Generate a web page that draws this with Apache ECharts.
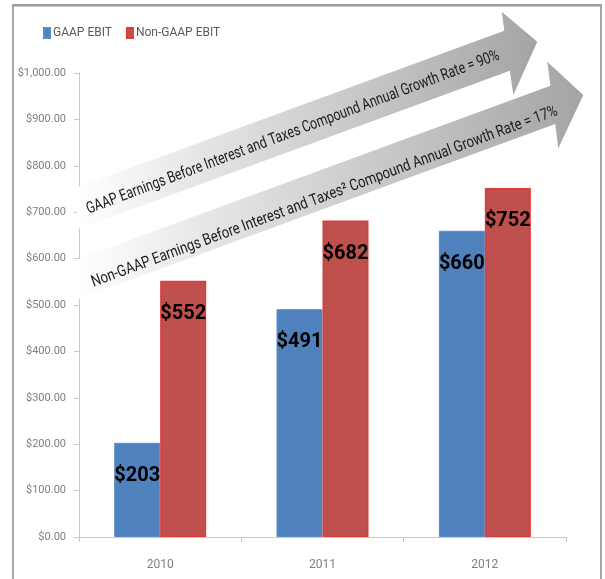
<!DOCTYPE html>
<html>
<head>
<meta charset="utf-8">
<script src="https://cdn.jsdelivr.net/npm/echarts@6/dist/echarts.min.js"></script>
<style>
html,body{margin:0;padding:0;background:#fff;}
#c{width:605px;height:579px;}
</style>
</head>
<body>
<div id="c"></div>
<script>
var categories = ['2010', '2011', '2012'];
var gaapEbit = [203, 491, 660];
var nonGaapEbit = [552, 682, 752];
var seriesNames = ['GAAP EBIT', 'Non-GAAP EBIT'];
var yTickLabels = ['$0.00', '$100.00', '$200.00', '$300.00', '$400.00', '$500.00',
  '$600.00', '$700.00', '$800.00', '$900.00', '$1,000.00'];
var arrowTexts = [
  'GAAP Earnings Before Interest and Taxes Compound Annual Growth Rate = 90%',
  'Non-GAAP Earnings Before Interest and Taxes\u00B2 Compound Annual Growth Rate = 17%'
];

var FONT = 'Roboto, "DejaVu Sans Condensed", sans-serif';
var chart = echarts.init(document.getElementById('c'), null, {renderer: 'canvas'});

function arrowFill() {
  return new echarts.graphic.LinearGradient(0, 0, 1, 0, [
    {offset: 0, color: '#ffffff'},
    {offset: 0.3, color: '#e2e2e2'},
    {offset: 0.7, color: '#c0c0c0'},
    {offset: 1, color: '#a4a4a4'}
  ]);
}
// horizontal condensing so the arrow captions span the arrows like the original
var mctx = document.createElement('canvas').getContext('2d');
function fitScale(text, size, target) {
  mctx.font = size + 'px Roboto';
  var w = mctx.measureText(text).width;
  return w > 0 ? target / w : 1;
}
var ARROW_FS = 16;
var s1 = fitScale(arrowTexts[0], ARROW_FS, 440);
var s2 = fitScale(arrowTexts[1], ARROW_FS, 496);

var option = {
  backgroundColor: '#ffffff',
  animation: false,
  legend: {
    left: 43, top: 27, padding: 0,
    itemWidth: 6, itemHeight: 10, itemGap: 14,
    icon: 'rect',
    textStyle: {fontFamily: FONT, fontSize: 12, color: '#595959', padding: [0, 0, 0, -2]},
    data: seriesNames
  },
  grid: {left: 79, right: 39, top: 73, bottom: 42, containLabel: false},
  xAxis: {
    type: 'category',
    data: categories,
    axisLine: {lineStyle: {color: '#c8c8c8', width: 1}},
    axisTick: {show: true, length: 5, lineStyle: {color: '#c8c8c8'}},
    axisLabel: {fontFamily: FONT, fontSize: 12, color: '#808080', margin: 22}
  },
  yAxis: {
    type: 'value',
    min: 0, max: 1000, interval: 100,
    axisLine: {show: true, lineStyle: {color: '#c8c8c8', width: 1}},
    axisTick: {show: true, length: 5, lineStyle: {color: '#c8c8c8'}},
    splitLine: {show: false},
    axisLabel: {
      fontFamily: FONT, fontSize: 11, color: '#808080', margin: 13,
      formatter: function (v) { return yTickLabels[Math.round(v / 100)]; }
    }
  },
  series: [
    {
      name: seriesNames[0], type: 'bar', data: gaapEbit,
      barWidth: 46, barGap: '0%',
      itemStyle: {color: '#4f81bd', borderColor: '#5a8bd0', borderWidth: 1},
      label: {
        show: true, position: 'insideTop', distance: 23,
        formatter: function (p) { return '$' + p.value; },
        fontFamily: FONT, fontSize: 20, fontWeight: 'bold', color: '#000'
      }
    },
    {
      name: seriesNames[1], type: 'bar', data: nonGaapEbit,
      barWidth: 46, barGap: '0%',
      itemStyle: {color: '#c0504d', borderColor: '#e23a36', borderWidth: 1.5},
      label: {
        show: true, position: 'insideTop', distance: 23,
        formatter: function (p) { return '$' + p.value; },
        fontFamily: FONT, fontSize: 20, fontWeight: 'bold', color: '#000'
      }
    }
  ],
  color: ['#4f81bd', '#c0504d'],
  graphic: [
    {
      type: 'rect', z: 100, silent: true,
      shape: {x: 13, y: 5, width: 588, height: 620},
      style: {fill: 'none', stroke: '#a8a8a8', lineWidth: 2}
    },
    {
      type: 'line', z: 100, silent: true,
      shape: {x1: 12, y1: 5.5, x2: 602, y2: 5.5},
      style: {stroke: '#9a9a9a', lineWidth: 2}
    },
    {
      type: 'polygon', z: 50, silent: true,
      shape: {points: [[77, 187.5], [504.3, 30.7], [501.7, 11.7], [537.3, 41.7],
        [513.3, 95], [509.9, 70.7], [77, 229.5]]},
      style: {fill: arrowFill()}
    },
    {
      type: 'polygon', z: 50, silent: true,
      shape: {points: [[77, 259.5], [550.4, 85.8], [547.3, 61.7], [583.3, 95],
        [558.3, 148.3], [555.2, 124.05], [77, 299.5]]},
      style: {fill: arrowFill()}
    },
    {
      type: 'text', z: 60, silent: true,
      x: 87, y: 210, rotation: 20.6 * Math.PI / 180, scaleX: s1,
      style: {text: arrowTexts[0], fontFamily: FONT, fontSize: ARROW_FS, fill: '#1a1a1a',
        textAlign: 'left', textVerticalAlign: 'middle'}
    },
    {
      type: 'text', z: 60, silent: true,
      x: 92, y: 283, rotation: 20.3 * Math.PI / 180, scaleX: s2,
      style: {text: arrowTexts[1], fontFamily: FONT, fontSize: ARROW_FS, fill: '#1a1a1a',
        textAlign: 'left', textVerticalAlign: 'middle'}
    }
  ]
};
chart.setOption(option);
</script>
</body>
</html>
